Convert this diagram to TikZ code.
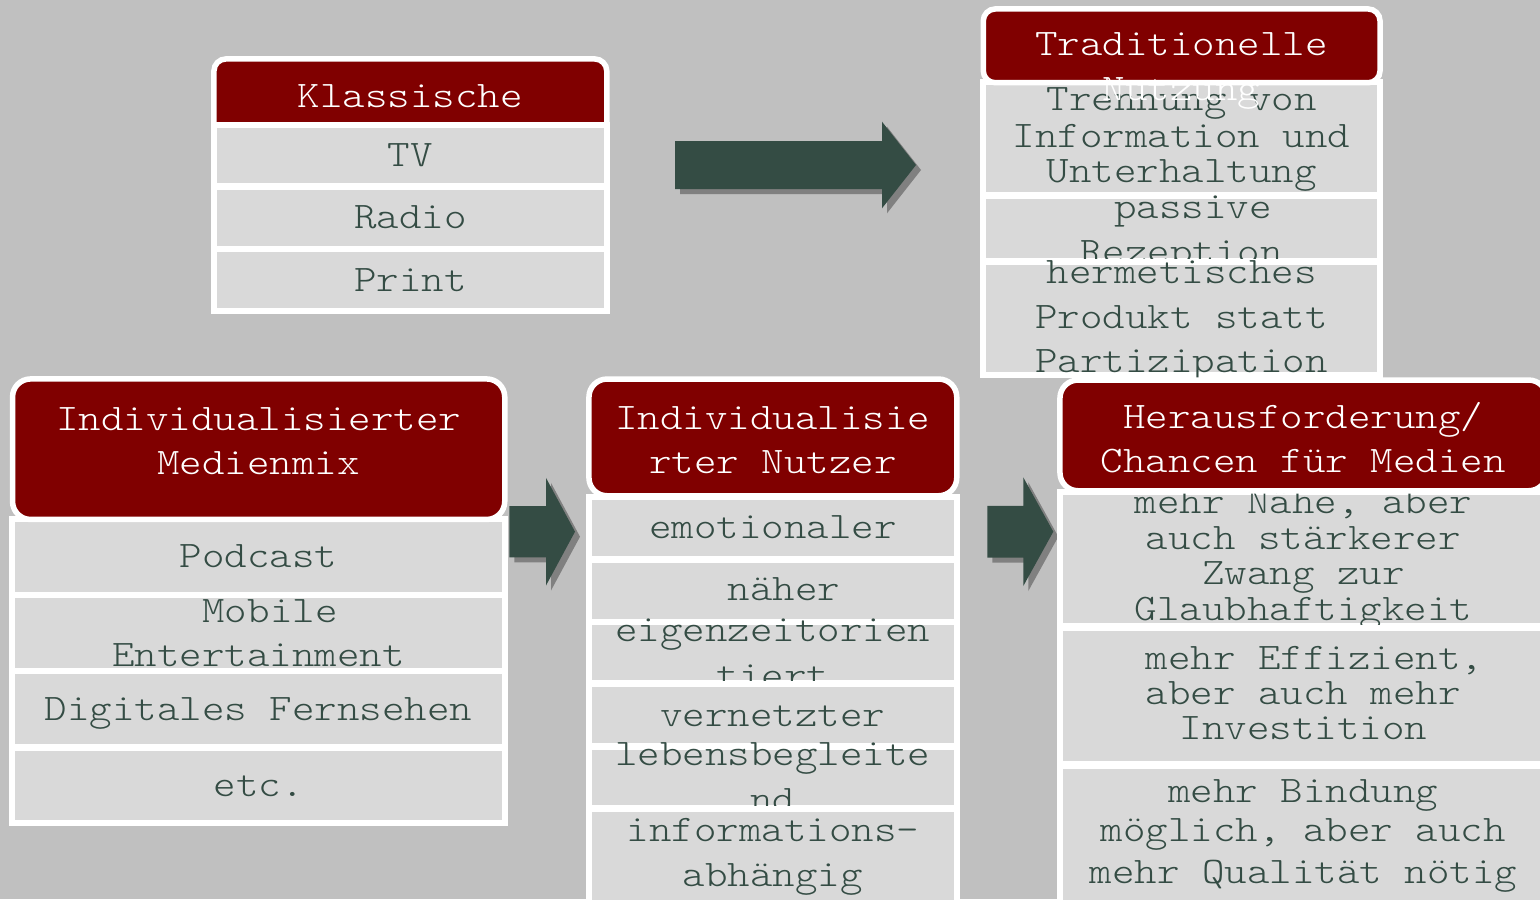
\documentclass[tikz,border=0pt]{standalone}
\usepackage{fontspec}
\usetikzlibrary{fit}
\newfontfamily\monoface{lmmonolt10-regular.otf}[FakeStretch=1.143]
\definecolor{pagegrey}{HTML}{C0C0C0}
\definecolor{cellgrey}{HTML}{D9D9D9}
\definecolor{headred}{HTML}{800000}
\definecolor{inkgreen}{HTML}{344C44}
\definecolor{shadowgrey}{HTML}{808080}

% grey row with white frame; arguments: name, x1, y1, x2, y2 of the grey area
\newcommand\cellat[5]{\node[cellbox, fit={(#2-3,#3-3) (#4+3,#5+3)}] (#1) {};}
% red rounded header; arguments: name, x1, y1, x2, y2 of the red area, corner radius
\newcommand\headat[6]{\node[headbox=#6, fit={(#2-2.75,#3-2.75) (#4+2.75,#5+2.75)}] (#1) {};}
% block arrow with drop shadow; left x, head base x, tip x, centre y, half body, half head
\newcommand\fatarrow[6]{%
  \fill[arrowshadow] (#1+5,#4-#5+5) -- (#2+5,#4-#5+5) -- (#2+5,#4-#6+5) -- (#3+5,#4+5)
    -- (#2+5,#4+#6+5) -- (#2+5,#4+#5+5) -- (#1+5,#4+#5+5) -- cycle;
  \fill[arrowbody] (#1,#4-#5) -- (#2,#4-#5) -- (#2,#4-#6) -- (#3,#4)
    -- (#2,#4+#6) -- (#2,#4+#5) -- (#1,#4+#5) -- cycle;}

\begin{document}
\begin{tikzpicture}[x=0.5pt,y=-0.5pt,
  cellbox/.style={draw=white, fill=cellgrey, line width=3pt, inner sep=0pt, outer sep=0pt},
  headbox/.style={draw=white, fill=headred, line width=2.75pt, inner sep=0pt, outer sep=0pt, rounded corners=#1},
  celltxt/.style={anchor=base, inner sep=0pt, text=inkgreen, font=\monoface\fontsize{18.75}{20}\selectfont},
  headtxt/.style={celltxt, text=white},
  arrowbody/.style={fill=inkgreen},
  arrowshadow/.style={fill=shadowgrey}]

\useasboundingbox (0,0) rectangle (1540,899);
\clip (0,0) rectangle (1540,899);
\fill[pagegrey] (0,0) rectangle (1540,899);

% arrows
\fatarrow{675}{882}{916}{165}{24}{43.3}
\fatarrow{509.3}{546}{575}{531.7}{25.7}{53.8}
\fatarrow{987.3}{1023.3}{1053.3}{531.7}{25.8}{54.3}

% Klassische
\headat{kh}{216.7}{61.7}{604}{140}{6pt}
\node[headtxt] (kht) at (410.4,107.8) {Klassische};
\cellat{k1}{216.7}{127.7}{604}{183.3}
\node[celltxt] (k1t) at (410.4,166.5) {TV};
\cellat{k2}{216.7}{190}{604}{246.7}
\node[celltxt] (k2t) at (410.4,228.8) {Radio};
\cellat{k3}{216.7}{252.3}{604}{308.3}
\node[celltxt] (k3t) at (410.4,291.2) {Print};

% Traditionelle Nutzung
\cellat{t1}{986}{85}{1377.3}{191.7}
\node[celltxt] (t1a) at (1181.7,110.5) {Trennung von};
\node[celltxt] (t1b) at (1181.7,147.2) {Information und};
\node[celltxt] (t1c) at (1181.7,182.2) {Unterhaltung};
\cellat{t2}{986}{199.3}{1377.3}{258.3}
\node[celltxt] (t2a) at (1193,218.8) {passive};
\node[celltxt] (t2b) at (1181.7,263.5) {Rezeption};
\cellat{t3}{986}{265}{1377.3}{371.7}
\node[celltxt] (t3a) at (1181.7,283.8) {hermetisches};
\node[celltxt] (t3b) at (1181.7,328.8) {Produkt statt};
\node[celltxt] (t3c) at (1181.7,372.2) {Partizipation};
\headat{th}{986}{11.7}{1377.3}{80}{6pt}
\node[headtxt] (tha) at (1181.7,55.5) {Traditionelle};
\node[headtxt] (thb) at (1181.7,100) {Nutzung};

% Individualisierter Medienmix
\cellat{m1}{15.3}{521.7}{502}{591.7}
\node[celltxt] (m1t) at (258.7,567.2) {Podcast};
\cellat{m2}{15.3}{598.3}{502}{667.7}
\node[celltxt] (m2a) at (270,622.2) {Mobile};
\node[celltxt] (m2b) at (258.7,666.5) {Entertainment};
\cellat{m3}{15.3}{674.3}{502}{744}
\node[celltxt] (m3t) at (258.7,720.5) {Digitales Fernsehen};
\cellat{m4}{15.3}{751}{502}{820}
\node[celltxt] (m4t) at (258.7,796.5) {etc.};
\headat{mh}{15.3}{381.7}{502}{516.7}{9pt}
\node[headtxt] (mha) at (258.7,430.5) {Individualisierter};
\node[headtxt] (mhb) at (258.7,474.5) {Medienmix};

% Individualisierter Nutzer
\cellat{n1}{591.7}{499.9}{954}{555.6}
\node[celltxt] (n1t) at (772.9,538.2) {emotionaler};
\cellat{n2}{591.7}{563}{954}{618.6}
\node[celltxt] (n2t) at (784.2,600.9) {näher};
\cellat{n3}{591.7}{625.4}{954}{680.4}
\node[celltxt] (n3a) at (772.9,641) {eigenzeitorien};
\node[celltxt] (n3b) at (772.9,687) {tiert};
\cellat{n4}{591.7}{687.1}{954}{742.8}
\node[celltxt] (n4t) at (772.9,726.5) {vernetzter};
\cellat{n5}{591.7}{749.6}{954}{805.2}
\node[celltxt] (n5a) at (772.9,765.9) {lebensbegleite};
\node[celltxt] (n5b) at (772.9,811) {nd};
\cellat{n6}{591.7}{812}{954}{910}
\node[celltxt] (n6a) at (772.9,841.1) {informations-};
\node[celltxt] (n6b) at (772.9,886.5) {abhängig};
\headat{nh}{591.7}{381.8}{954}{493}{9pt}
\node[headtxt] (nha) at (772.9,429.5) {Individualisie};
\node[headtxt] (nhb) at (772.9,473.5) {rter Nutzer};

% Herausforderung / Chancen
\cellat{h1}{1062.7}{494.8}{1544}{623}
\node[celltxt] (h1a) at (1303.4,513.9) {mehr Nähe, aber};
\node[celltxt] (h1b) at (1303.4,549.3) {auch stärkerer};
\node[celltxt] (h1c) at (1303.4,584.7) {Zwang zur};
\node[celltxt] (h1d) at (1303.4,620.8) {Glaubhaftigkeit};
\cellat{h2}{1062.7}{630.5}{1544}{760.7}
\node[celltxt] (h2a) at (1314.7,669.1) {mehr Effizient,};
\node[celltxt] (h2b) at (1303.4,704.5) {aber auch mehr};
\node[celltxt] (h2c) at (1303.4,739.9) {Investition};
\cellat{h3}{1062.7}{768.8}{1544}{910}
\node[celltxt] (h3a) at (1303.4,802.3) {mehr Bindung};
\node[celltxt] (h3b) at (1303.4,841.1) {möglich, aber auch};
\node[celltxt] (h3c) at (1303.4,883.3) {mehr Qualität nötig};
\headat{hh}{1062.7}{382.8}{1544}{488}{9pt}
\node[headtxt] (hha) at (1303.4,428.9) {Herausforderung/};
\node[headtxt] (hhb) at (1303.4,472.7) {Chancen für Medien};

\end{tikzpicture}
\end{document}
